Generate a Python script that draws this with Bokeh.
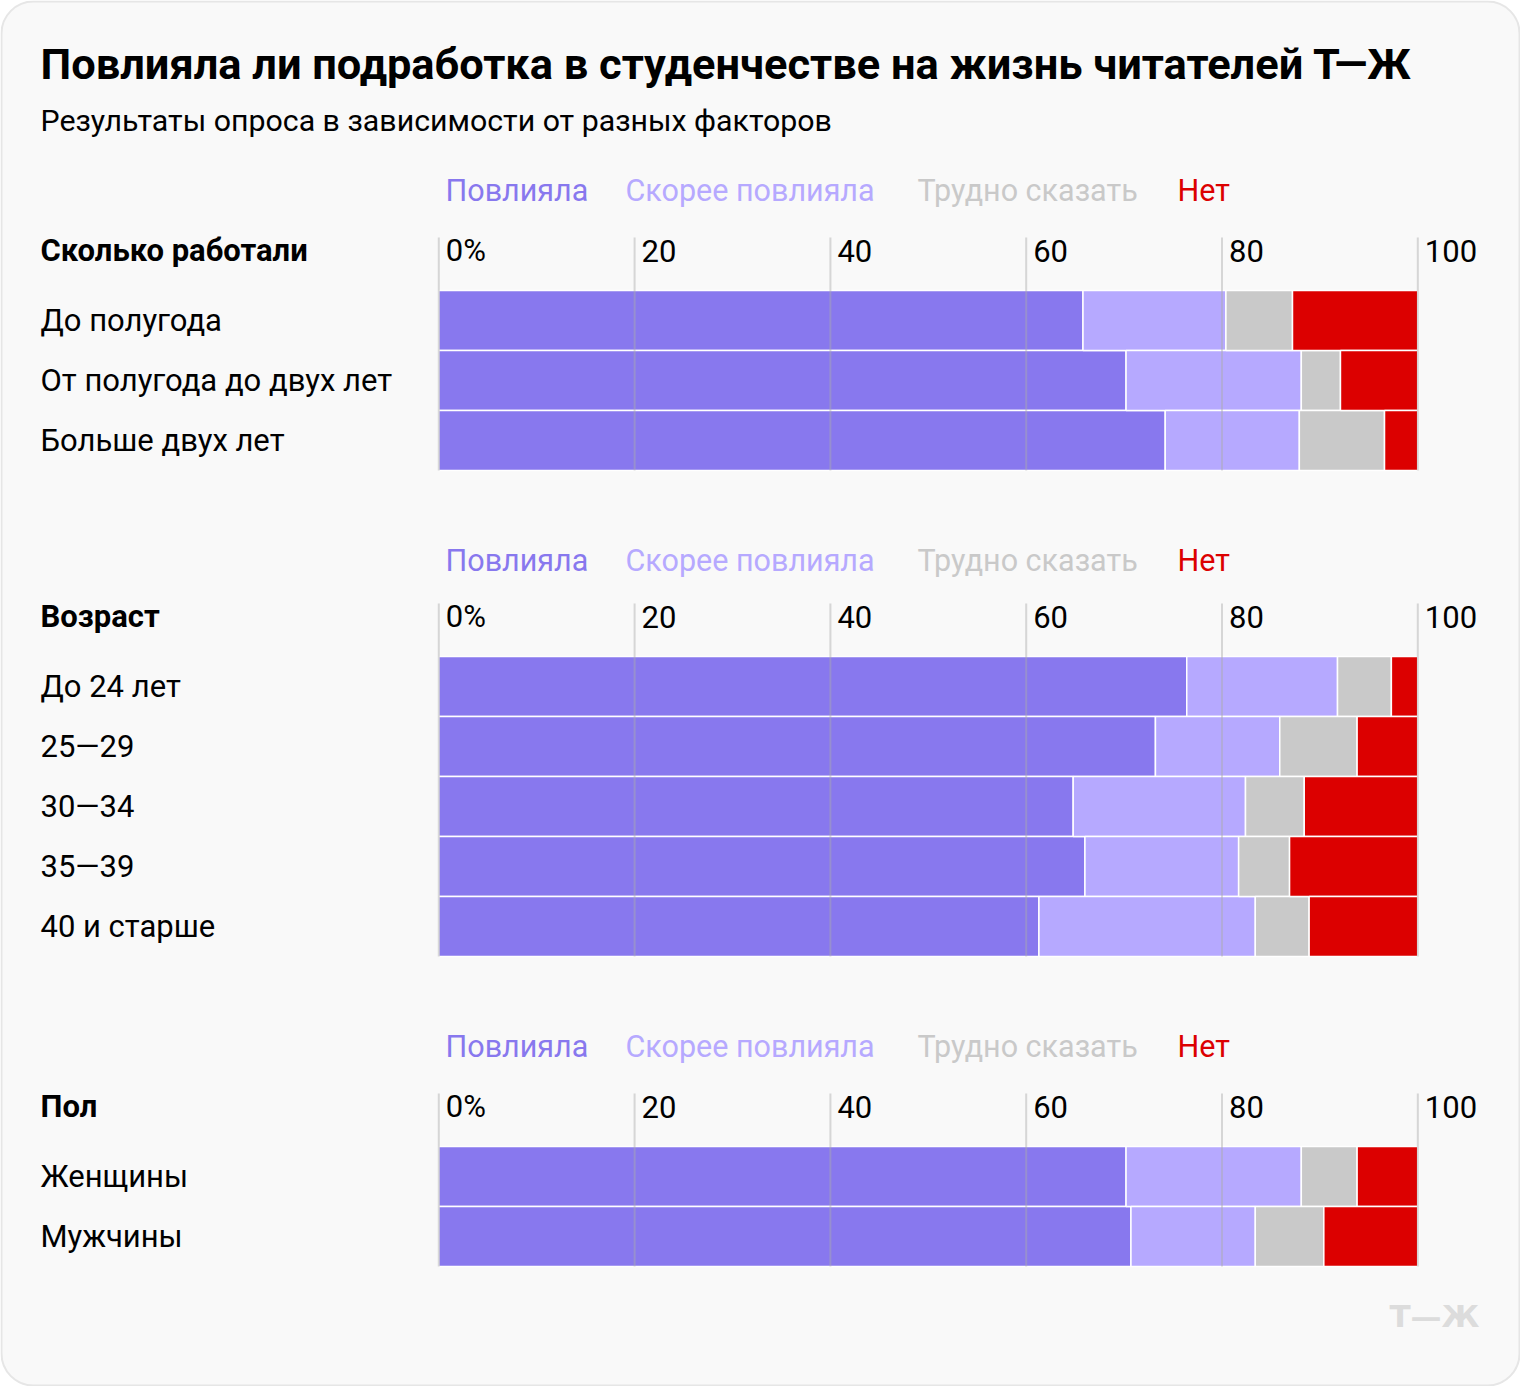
from bokeh.plotting import figure
from bokeh.models import Range1d, ColumnDataSource
from bokeh.core.properties import value
from bokeh.embed import file_html
from bokeh.resources import INLINE

# ---------------- data ----------------
answers = ["Повлияла", "Скорее повлияла", "Трудно сказать", "Нет"]
answer_colors = ["#8878EE", "#B6A9FF", "#C9C9C9", "#DC0000"]

title = "Повлияла ли подработка в студенчестве на жизнь читателей Т—Ж"
subtitle = "Результаты опроса в зависимости от разных факторов"

group_titles = ["Сколько работали", "Возраст", "Пол"]

work_cats = ["До полугода", "От полугода до двух лет", "Больше двух лет"]
work_influenced = [65.8, 70.2, 74.2]
work_rather = [14.6, 17.9, 13.7]
work_hard = [6.8, 4.0, 8.7]
work_no = [12.8, 7.9, 3.4]

age_cats = ["До 24 лет", "25—29", "30—34", "35—39", "40 и старше"]
age_influenced = [76.4, 73.2, 64.8, 66.0, 61.3]
age_rather = [15.4, 12.7, 17.6, 15.7, 22.1]
age_hard = [5.5, 7.9, 6.0, 5.2, 5.5]
age_no = [2.7, 6.2, 11.6, 13.1, 11.1]

sex_cats = ["Женщины", "Мужчины"]
sex_influenced = [70.2, 70.7]
sex_rather = [17.9, 12.7]
sex_hard = [5.7, 7.0]
sex_no = [6.2, 9.6]

ticks = [0, 20, 40, 60, 80, 100]
tick_labels = ["0%", "20", "40", "60", "80", "100"]

logo = "Т—Ж"

groups = [
    (work_cats, [work_influenced, work_rather, work_hard, work_no]),
    (age_cats, [age_influenced, age_rather, age_hard, age_no]),
    (sex_cats, [sex_influenced, sex_rather, sex_hard, sex_no]),
]

# ---------------- layout ----------------
W, H = 1520, 1386
X0, X100 = 438.3, 1417.3
SC = (X100 - X0) / 100.0


def px2x(px):
    return (px - X0) / SC


FONT = "Roboto"
header_y = [250, 616, 1106]
legend_y = [190, 560, 1046]
legend_px = [445, 625, 917, 1177]
ROW = 60

p = figure(width=W, height=H, output_backend="svg", toolbar_location=None,
           x_range=Range1d(px2x(0), px2x(W)), y_range=Range1d(H, 0),
           x_axis_location=None, y_axis_location=None, min_border=0)
p.grid.visible = False
p.outline_line_color = None
p.background_fill_color = "white"
p.border_fill_color = "white"

# card background
p.quad(left=[px2x(1)], right=[px2x(W - 1)], top=[1], bottom=[H - 1],
       fill_color="#F9F9F9", line_color="#E6E6E6", line_width=2, border_radius=32)

# title / subtitle
p.text(x=[px2x(40)], y=[64], text=[title], text_font=value(FONT), text_font_style="bold",
       text_font_size="43.4px", text_baseline="middle", text_color="#000000")
p.text(x=[px2x(40)], y=[120], text=[subtitle], text_font=value(FONT),
       text_font_size="30.3px", text_baseline="middle", text_color="#000000")

for g, (cats, series) in enumerate(groups):
    hy = header_y[g]
    rows_y = [hy + 70 + ROW * i for i in range(len(cats))]
    # legend
    p.text(x=[px2x(px) for px in legend_px], y=[legend_y[g]] * 4, text=answers,
           text_color=answer_colors, text_font=value(FONT), text_font_size="30.5px",
           text_baseline="middle")
    # group title
    p.text(x=[px2x(40)], y=[hy], text=[group_titles[g]], text_font=value(FONT),
           text_font_style="bold", text_font_size="31px", text_baseline="middle",
           text_color="#000000")
    # tick labels
    p.text(x=ticks, y=[hy] * len(ticks), text=tick_labels, x_offset=7,
           text_font=value(FONT), text_font_size="31px", text_baseline="middle",
           text_color="#000000")
    # category labels
    p.text(x=[px2x(40)] * len(cats), y=rows_y, text=cats, text_font=value(FONT),
           text_font_size="31px", text_baseline="middle", text_color="#000000")
    # stacked bars
    left = [0.0] * len(cats)
    for k, vals in enumerate(series):
        right = [l + v for l, v in zip(left, vals)]
        src = ColumnDataSource(dict(y=rows_y, left=left, right=right))
        p.hbar(y="y", left="left", right="right", height=ROW, source=src,
               fill_color=answer_colors[k], line_color="white", line_width=1.5)
        left = right
    # grid lines
    top = hy - 13
    bottom = rows_y[-1] + ROW / 2
    p.segment(x0=ticks, x1=ticks, y0=[top] * len(ticks), y1=[bottom] * len(ticks),
              line_color="#AAAAAA", line_alpha=0.45, line_width=2)

# logo
p.text(x=[px2x(1479)], y=[1315], text=[logo], text_align="right", text_baseline="middle",
       text_font=value("DejaVu Sans"), text_font_style="bold", text_font_size="31px",
       text_color="#DCDCDC")

open("out.html", "w").write(file_html(p, INLINE))
